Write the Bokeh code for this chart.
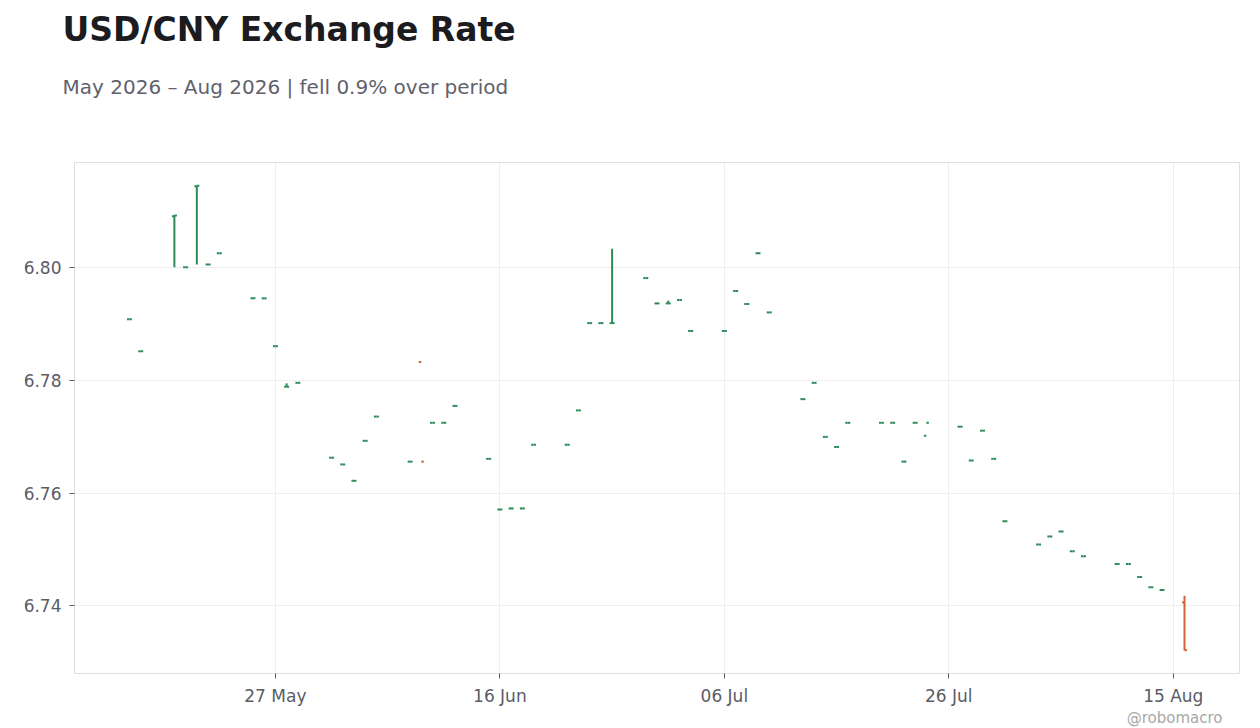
import numpy as np
import pandas as pd
from bokeh.plotting import figure
from bokeh.models import (Range1d, Title, FixedTicker, DatetimeTickFormatter,
                          NumeralTickFormatter, ColumnDataSource)
from bokeh.embed import file_html
from bokeh.resources import INLINE

# ---------------- data ----------------
dates = [
    "2026-05-14", "2026-05-15", "2026-05-18", "2026-05-19", "2026-05-20", "2026-05-21", "2026-05-22",
    "2026-05-25", "2026-05-26", "2026-05-27", "2026-05-28", "2026-05-29",
    "2026-06-01", "2026-06-02", "2026-06-03", "2026-06-04", "2026-06-05",
    "2026-06-08", "2026-06-09", "2026-06-10", "2026-06-11", "2026-06-12",
    "2026-06-15", "2026-06-16", "2026-06-17", "2026-06-18", "2026-06-19",
    "2026-06-22", "2026-06-23", "2026-06-24", "2026-06-25", "2026-06-26",
    "2026-06-29", "2026-06-30", "2026-07-01", "2026-07-02", "2026-07-03",
    "2026-07-06", "2026-07-07", "2026-07-08", "2026-07-09", "2026-07-10",
    "2026-07-13", "2026-07-14", "2026-07-15", "2026-07-16", "2026-07-17",
    "2026-07-20", "2026-07-21", "2026-07-22", "2026-07-23", "2026-07-24",
    "2026-07-27", "2026-07-28", "2026-07-29", "2026-07-30", "2026-07-31",
    "2026-08-03", "2026-08-04", "2026-08-05", "2026-08-06", "2026-08-07",
    "2026-08-10", "2026-08-11", "2026-08-12", "2026-08-13", "2026-08-14",
    "2026-08-16",
]
opens = [
    6.7909, 6.7852, 6.8092, 6.8001, 6.8145, 6.8006, 6.8026,
    6.7946, 6.7946, 6.7861, 6.7789, 6.7796,
    6.7663, 6.7651, 6.7622, 6.7693, 6.7736,
    6.7656, 6.7833, 6.7725, 6.7725, 6.7755,
    6.7661, 6.7571, 6.7573, 6.7573, 6.7686,
    6.7686, 6.7747, 6.7902, 6.7902, 6.7902,
    6.7982, 6.7937, 6.7937, 6.7943, 6.7888,
    6.7888, 6.7959, 6.7936, 6.8026, 6.7921,
    6.7767, 6.7796, 6.7700, 6.7682, 6.7725,
    6.7725, 6.7725, 6.7656, 6.7725, 6.7702,
    6.7718, 6.7658, 6.7711, 6.7661, 6.7550,
    6.7509, 6.7523, 6.7532, 6.7497, 6.7488,
    6.7474, 6.7474, 6.7451, 6.7433, 6.7428,
    6.7406,
]
highs = [
    6.7909, 6.7852, 6.8093, 6.8001, 6.8146, 6.8006, 6.8026,
    6.7946, 6.7946, 6.7861, 6.7795, 6.7796,
    6.7663, 6.7651, 6.7622, 6.7693, 6.7736,
    6.7656, 6.7656, 6.7725, 6.7725, 6.7755,
    6.7661, 6.7571, 6.7573, 6.7573, 6.7686,
    6.7686, 6.7747, 6.7902, 6.7902, 6.8034,
    6.7982, 6.7937, 6.7942, 6.7943, 6.7888,
    6.7888, 6.7959, 6.7936, 6.8026, 6.7921,
    6.7767, 6.7796, 6.7700, 6.7682, 6.7725,
    6.7725, 6.7725, 6.7656, 6.7725, 6.7702,
    6.7718, 6.7658, 6.7711, 6.7661, 6.7550,
    6.7509, 6.7523, 6.7532, 6.7497, 6.7488,
    6.7474, 6.7474, 6.7451, 6.7433, 6.7428,
    6.7418,
]
lows = [
    6.7909, 6.7852, 6.8001, 6.8001, 6.8006, 6.8006, 6.8026,
    6.7946, 6.7946, 6.7861, 6.7789, 6.7796,
    6.7663, 6.7651, 6.7622, 6.7693, 6.7736,
    6.7656, 6.7656, 6.7725, 6.7725, 6.7755,
    6.7661, 6.7571, 6.7573, 6.7573, 6.7686,
    6.7686, 6.7747, 6.7902, 6.7902, 6.7902,
    6.7982, 6.7937, 6.7937, 6.7943, 6.7888,
    6.7888, 6.7959, 6.7936, 6.8026, 6.7921,
    6.7767, 6.7796, 6.7700, 6.7682, 6.7725,
    6.7725, 6.7725, 6.7656, 6.7725, 6.7702,
    6.7718, 6.7658, 6.7711, 6.7661, 6.7550,
    6.7509, 6.7523, 6.7532, 6.7497, 6.7488,
    6.7474, 6.7474, 6.7451, 6.7433, 6.7428,
    6.7321,
]
closes = [
    6.7909, 6.7852, 6.8093, 6.8001, 6.8146, 6.8006, 6.8026,
    6.7946, 6.7946, 6.7861, 6.7789, 6.7796,
    6.7663, 6.7651, 6.7622, 6.7693, 6.7736,
    6.7656, 6.7656, 6.7725, 6.7725, 6.7755,
    6.7661, 6.7571, 6.7573, 6.7573, 6.7686,
    6.7686, 6.7747, 6.7902, 6.7902, 6.7902,
    6.7982, 6.7937, 6.7937, 6.7943, 6.7888,
    6.7888, 6.7959, 6.7936, 6.8026, 6.7921,
    6.7767, 6.7796, 6.7700, 6.7682, 6.7725,
    6.7725, 6.7725, 6.7656, 6.7725, 6.7725,
    6.7718, 6.7658, 6.7711, 6.7661, 6.7550,
    6.7509, 6.7523, 6.7532, 6.7497, 6.7488,
    6.7474, 6.7474, 6.7451, 6.7433, 6.7428,
    6.7321,
]

TITLE = "USD/CNY Exchange Rate"
SUBTITLE = "May 2026 \u2013 Aug 2026 | fell 0.9% over period"
WATERMARK = "@robomacro"
x_tick_dates = ["2026-05-27", "2026-06-16", "2026-07-06", "2026-07-26", "2026-08-15"]
y_ticks = [6.74, 6.76, 6.78, 6.80]

# ---------------- styling ----------------
UP = "#2e8b57"
DOWN = "#d1603d"
FONT = "DejaVu Sans"
TICK_HALF = pd.Timedelta(hours=5.3)

df = pd.DataFrame(dict(date=pd.to_datetime(dates), open=opens, high=highs,
                       low=lows, close=closes))
df["color"] = np.where(df["close"] >= df["open"], UP, DOWN)
df["x_left"] = df["date"] - TICK_HALF
df["x_right"] = df["date"] + TICK_HALF
src = ColumnDataSource(df)

xpad = pd.Timedelta(days=4.9)
lo, hi = min(lows), max(highs)
ypad = (hi - lo) * 0.05

p = figure(width=1252, height=728, x_axis_type="datetime",
           output_backend="svg", toolbar_location=None,
           title=TITLE,
           x_range=Range1d(df["date"].min() - xpad, df["date"].max() + xpad),
           y_range=Range1d(lo - ypad, hi + ypad),
           min_border_left=74, min_border_right=13, min_border_bottom=0,
           min_border_top=0)

p.background_fill_color = "white"
p.border_fill_color = "white"
p.outline_line_color = "#dedede"
p.outline_line_width = 1

p.title.text_font = FONT
p.title.text_font_size = "33px"
p.title.text_font_style = "bold"
p.title.text_color = "#1b1b20"
p.title.offset = -12
p.title.standoff = 14

# spacer between subtitle and plot frame (added first: nearest the frame)
spacer = Title(text=" ", text_font=FONT, text_font_size="10px", standoff=34)
p.add_layout(spacer, "above")

sub = Title(text=SUBTITLE, text_font=FONT, text_font_size="20px",
            text_font_style="normal", text_color="#5f616c", offset=-12,
            standoff=34)
p.add_layout(sub, "above")

# OHLC bars
p.segment(x0="date", y0="low", x1="date", y1="high", source=src,
          line_color="color", line_width=2)
p.segment(x0="x_left", y0="open", x1="date", y1="open", source=src,
          line_color="color", line_width=2)
p.segment(x0="date", y0="close", x1="x_right", y1="close", source=src,
          line_color="color", line_width=2)

# axes
p.xaxis.ticker = FixedTicker(ticks=[pd.Timestamp(d).value // 10**6 for d in x_tick_dates])
fmt = "%d %b"
p.xaxis.formatter = DatetimeTickFormatter(days=fmt, months=fmt, hours=fmt,
                                          years=fmt, minutes=fmt)
p.yaxis.ticker = FixedTicker(ticks=y_ticks)
p.yaxis.formatter = NumeralTickFormatter(format="0.00")

for ax in (p.xaxis, p.yaxis):
    ax.axis_line_color = None
    ax.major_tick_line_color = "#5a5c66"
    ax.major_tick_out = 5
    ax.major_tick_in = 0
    ax.minor_tick_line_color = None
    ax.major_label_text_font = FONT
    ax.major_label_text_font_size = "17px"
    ax.major_label_text_color = "#5a5c66"
    ax.major_label_standoff = 8
p.xaxis.major_label_standoff = 7

p.xgrid.grid_line_color = "#eeeeee"
p.ygrid.grid_line_color = "#eeeeee"
p.xgrid.ticker = p.xaxis.ticker
p.ygrid.ticker = p.yaxis.ticker

# watermark below the axis, right aligned
wm = Title(text=WATERMARK, text_font=FONT, text_font_size="15px",
           text_font_style="normal", text_color="#a8a8a8", align="right",
           offset=17, standoff=0, vertical_align="top")
p.add_layout(wm, "below")

open("out.html", "w").write(file_html(p, INLINE))
